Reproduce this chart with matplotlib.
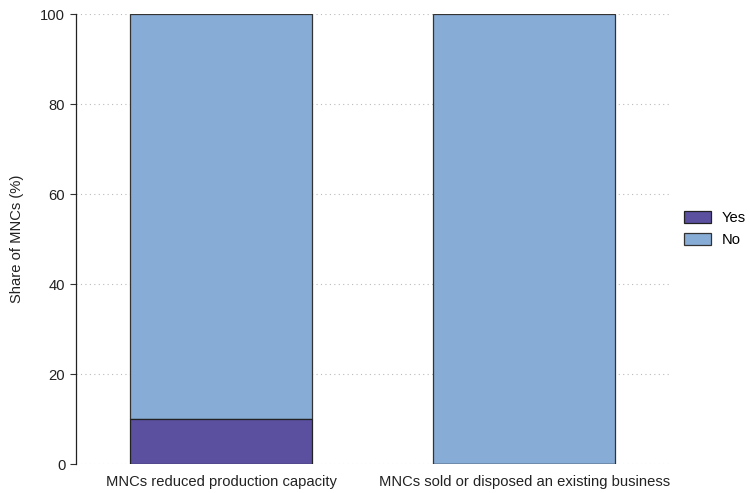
import numpy as np
import matplotlib.pyplot as plt

plt.rcParams['font.family'] = ['Liberation Sans', 'DejaVu Sans']

categories = ['MNCs reduced production capacity', 'MNCs sold or disposed an existing business']
yes_share = [10, 0]
no_share = [90, 100]
series_labels = ['Yes', 'No']

fig = plt.figure(figsize=(7.5, 4.93), dpi=100)
ax = fig.add_axes([0.101, 0.0588, 0.795, 0.9128])

x = np.arange(len(categories))
w = 0.6
ax.bar(x, yes_share, w, color='#5b4fa0', edgecolor='#222222', linewidth=0.9, label=series_labels[0], zorder=3)
ax.bar(x, no_share, w, bottom=yes_share, color='#87acd6', edgecolor='#333333', linewidth=0.9,
       label=series_labels[1], zorder=2)

ax.set_xlim(-0.48, 1.487)
ax.set_ylim(0, 100)
ax.set_yticks([0, 20, 40, 60, 80, 100])
ax.set_xticks(x)
ax.set_xticklabels(categories, fontsize=10.6, color='#222222')
ax.tick_params(axis='x', length=0, pad=8)
ax.tick_params(axis='y', labelsize=10.6, labelcolor='#222222', length=4, color='#333333')
ax.grid(axis='y', linestyle=(0, (1, 3)), color='#bbbbbb', linewidth=0.8, zorder=0)
ax.set_axisbelow(True)

for s in ['top', 'right', 'bottom']:
    ax.spines[s].set_visible(False)
ax.spines['left'].set_color('#222222')
ax.spines['left'].set_linewidth(0.9)

ax.set_ylabel('Share of MNCs (%)', fontsize=10.6, color='#222222', labelpad=12)

leg = fig.legend(loc='center left', bbox_to_anchor=(0.912, 0.535), frameon=False, fontsize=10.6,
                 handlelength=1.85, handleheight=0.85, labelspacing=0.55, borderpad=0,
                 borderaxespad=0, handletextpad=0.7)

fig.savefig('out.png', dpi=100)
